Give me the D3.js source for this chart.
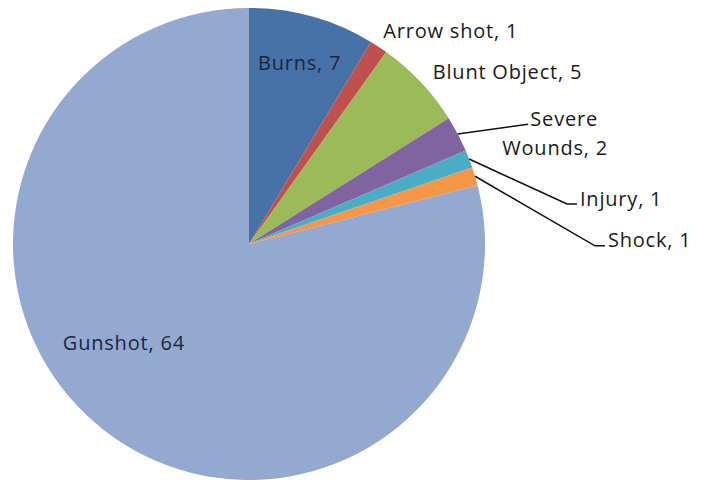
<!DOCTYPE html>
<html>
<head>
<meta charset="utf-8">
<script src="https://cdn.jsdelivr.net/npm/d3@7"></script>
<style>
  body { margin: 0; background: #fff; }
  text { font-family: "Open Sans", sans-serif; font-size: 20px; letter-spacing: 0.8px; }
</style>
</head>
<body>
<div class="pie-chart"></div>
<script>
const causes = ["Burns", "Arrow shot", "Blunt Object", "Severe Wounds", "Injury", "Shock", "Gunshot"];
const counts = [7, 1, 5, 2, 1, 1, 64];
const colors = ["#4672a8", "#c0504d", "#9bbb59", "#8064a2", "#4bacc6", "#f79646", "#93a9d0"];

const width = 709, height = 482;
const cx = 249, cy = 244, r = 236;

const svg = d3.select(".pie-chart").append("svg")
    .attr("width", width)
    .attr("height", height)
    .attr("viewBox", [0, 0, width, height]);

const data = causes.map((c, i) => ({cause: c, value: counts[i], color: colors[i]}));

const pie = d3.pie().sort(null).value(d => d.value);
const arc = d3.arc().innerRadius(0).outerRadius(r);
const arcs = pie(data);

const g = svg.append("g").attr("transform", `translate(${cx},${cy})`);

g.selectAll("path")
    .data(arcs)
    .join("path")
    .attr("d", arc)
    .attr("fill", d => d.data.color);

// label placement: polar (deg offset from slice middle, radius), inside or outside
const placement = {
    "Burns":         {da: 0,    rad: 0.80,  mode: "in"},
    "Gunshot":       {da: 14,   rad: 0.675, mode: "in"},
    "Arrow shot":    {da: -1.2, rad: 1.07,  mode: "out"},
    "Blunt Object":  {da: 0.2,  rad: 1.067, mode: "out"},
    "Severe Wounds": {da: 7.9,  rad: 1.393, mode: "lead2"},
    "Injury":        {da: 13.2, rad: 1.416, mode: "lead"},
    "Shock":         {da: 16.0, rad: 1.521, mode: "lead"}
};

const polar = (deg, rad) => {
    const a = deg * Math.PI / 180;
    return [Math.sin(a) * rad, -Math.cos(a) * rad];
};

const mid = d => (d.startAngle + d.endAngle) / 2 * 180 / Math.PI;

arcs.forEach(d => {
    const p = placement[d.data.cause];
    const [x, y] = polar(mid(d) + p.da, r * p.rad);
    const label = `${d.data.cause}, ${d.data.value}`;
    if (p.mode === "in") {
        g.append("text")
            .attr("x", x).attr("y", y)
            .attr("text-anchor", "middle")
            .attr("dominant-baseline", "central")
            .attr("fill", "#1c2640")
            .text(label);
    } else if (p.mode === "out") {
        g.append("text")
            .attr("x", x).attr("y", y)
            .attr("dominant-baseline", "central")
            .attr("fill", "#1a1a1a")
            .text(label);
    } else if (p.mode === "lead") {
        const [ex, ey] = polar(mid(d), r);
        g.append("polyline")
            .attr("points", [[ex, ey], [x - 13, y + 6], [x - 3, y + 6]])
            .attr("fill", "none")
            .attr("stroke", "#111")
            .attr("stroke-width", 1.6);
        g.append("text")
            .attr("x", x).attr("y", y)
            .attr("dominant-baseline", "central")
            .attr("fill", "#1a1a1a")
            .text(label);
    } else {
        const [ex, ey] = polar(mid(d), r);
        const words = d.data.cause.split(" ");
        g.append("polyline")
            .attr("points", [[ex, ey], [x - 30, y - 8]])
            .attr("fill", "none")
            .attr("stroke", "#111")
            .attr("stroke-width", 1.6);
        g.append("text")
            .attr("x", x + 6).attr("y", y - 14)
            .attr("text-anchor", "middle")
            .attr("dominant-baseline", "central")
            .attr("fill", "#1a1a1a")
            .text(words[0]);
        g.append("text")
            .attr("x", x - 3).attr("y", y + 15)
            .attr("text-anchor", "middle")
            .attr("dominant-baseline", "central")
            .attr("fill", "#1a1a1a")
            .text(`${words[1]}, ${d.data.value}`);
    }
});
</script>
</body>
</html>
